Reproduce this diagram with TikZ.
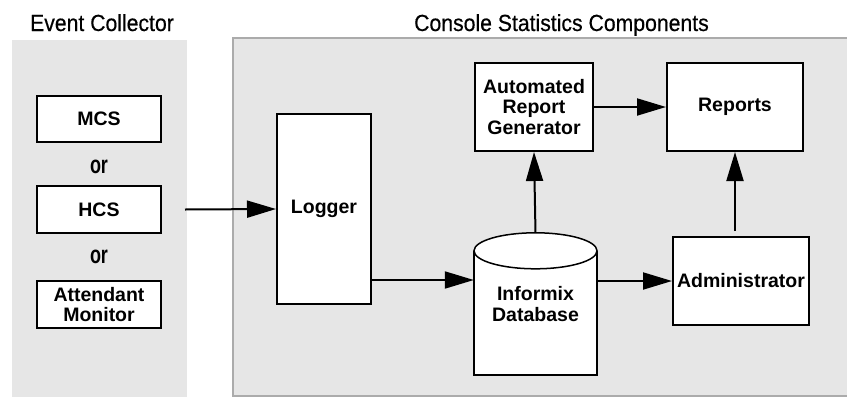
\documentclass[tikz,border=0pt]{standalone}
\usepackage{fontspec}
\setmainfont{Liberation Sans}
\newfontfamily\headfont[FakeStretch=0.91, FakeBold=0.4]{Liberation Sans}
\newfontfamily\orfont[FakeStretch=0.72]{Liberation Sans Bold}
\usetikzlibrary{arrows.meta}
\definecolor{panelgray}{HTML}{E6E6E6}
\definecolor{edgegray}{HTML}{ABABAB}
\newcommand{\boxfont}{\fontsize{19.5}{20.5}\selectfont\bfseries}
\tikzstyle{unit}=[draw, fill=white, line width=2pt, align=center, font=\boxfont, inner sep=0pt]
\tikzstyle{flow}=[line width=2pt, -{Triangle[length=29pt,width=17pt]}]
\tikzstyle{heading}=[font=\fontsize{23.3}{26}\headfont, anchor=base]
\tikzstyle{alt}=[font=\fontsize{25}{28}\orfont, inner sep=0pt]

\begin{document}
\begin{tikzpicture}[x=1pt, y=-1pt]
  \useasboundingbox (0,0) rectangle (847,397);
  % panels
  \fill[panelgray] (12,40) rectangle (187,397);
  \draw[fill=panelgray, draw=edgegray, line width=1.5pt] (233,38) rectangle (870,396);
  \node[heading] (collector) at (102,31) {Event Collector};
  \node[heading] (console) at (561.5,31) {Console Statistics Components};

  % event collector
  \node[unit, minimum width=124, minimum height=46] (mcs) at (99,119) {MCS};
  \node[alt] (or1) at (99,167) {or};
  \node[unit, minimum width=124, minimum height=47] (hcs) at (99,209.5) {HCS};
  \node[alt] (or2) at (99,257) {or};
  \node[unit, minimum width=124, minimum height=47] (att) at (99,304.5) {Attendant\\Monitor};

  % statistics components
  \node[unit, minimum width=94, minimum height=190] (logger) at (324,209) {Logger};
  \node[unit, minimum width=118, minimum height=88] (arg) at (534,107) {Automated\\Report\\Generator};
  \node[unit, minimum width=136, minimum height=88] (rep) at (735,107) {Reports};
  \node[unit, minimum width=136, minimum height=88] (adm) at (741,281) {Administrator};

  % database
  \path (535.5,304) node[minimum width=123, minimum height=142, inner sep=0pt] (db) {};
  \draw[line width=2pt, fill=white]
    ([yshift=-18pt]db.north west) -- (db.south west) -- (db.south east) -- ([yshift=-18pt]db.north east);
  \draw[line width=1.5pt, fill=white] ([yshift=-18pt]db.north) ellipse [x radius=61.5, y radius=18];
  \node[font=\boxfont, align=center] (dblabel) at (db) {Informix\\Database};

  % flows
  \draw[flow] ([xshift=23pt]hcs.east) -- (logger.west);
  \draw[flow] ([yshift=25pt]logger.south east) -- ([yshift=25pt]logger.south east -| db.west);
  \draw[flow] (db.north) -- (arg.south);
  \draw[flow] (arg.east) -- (rep.west);
  \draw[flow] (db.east |- adm.west) -- (adm.west);
  \draw[flow, shorten <=5pt] (rep.south |- adm.north) -- (rep.south);
\end{tikzpicture}
\end{document}
